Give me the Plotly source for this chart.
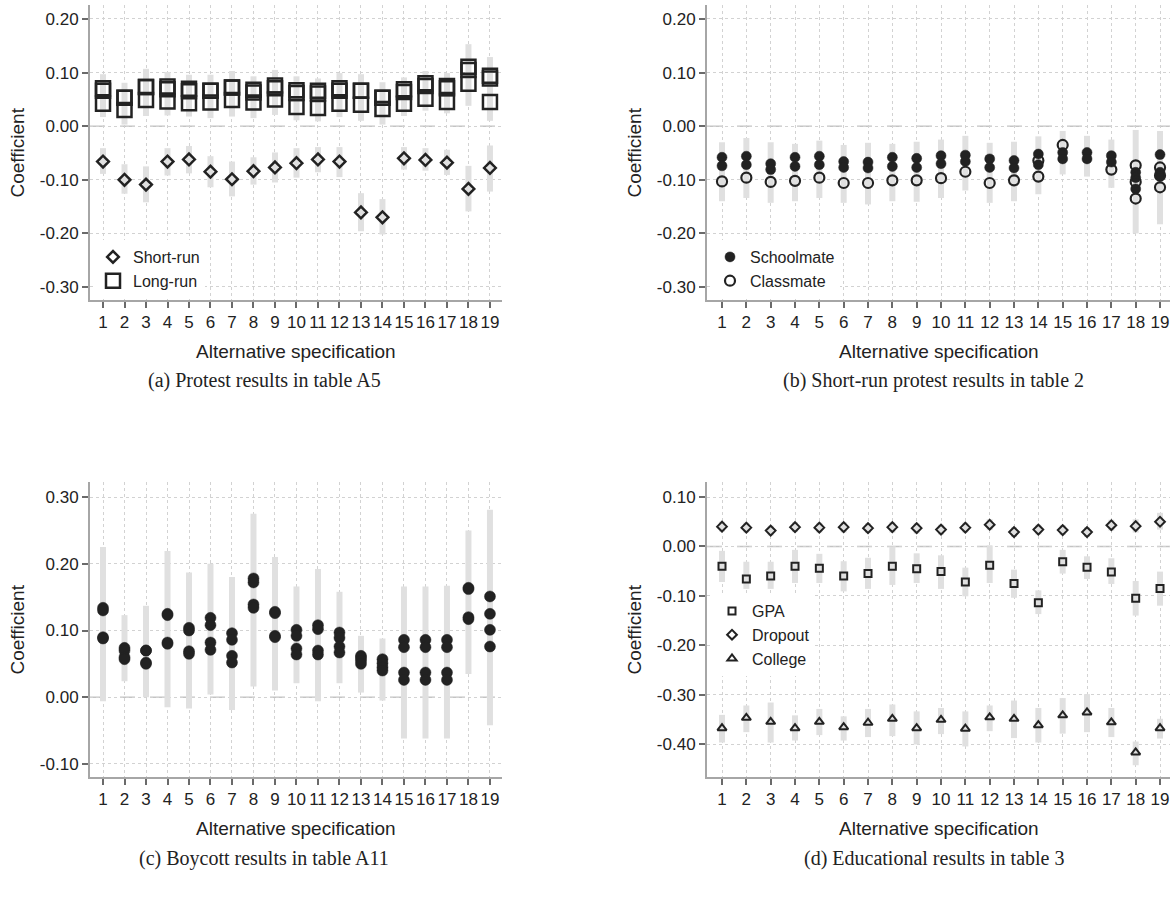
import plotly.graph_objects as go

W, H = 1170, 898
SPECS = list(range(1, 20))
X_TICKTEXT = [str(s) for s in SPECS]

# ---------- Panel (a): Protest results in table A5 ----------
SR = [-0.066, -0.100, -0.109, -0.066, -0.062, -0.085, -0.099, -0.084, -0.077, -0.069,
      -0.062, -0.066, -0.161, -0.170, -0.060, -0.063, -0.068, -0.117, -0.078]
SR_LO = [-0.089, -0.126, -0.142, -0.092, -0.088, -0.114, -0.131, -0.109, -0.105, -0.096,
         -0.086, -0.095, -0.196, -0.202, -0.081, -0.083, -0.091, -0.159, -0.122]
SR_HI = [-0.041, -0.071, -0.075, -0.041, -0.037, -0.056, -0.066, -0.058, -0.049, -0.041,
         -0.039, -0.039, -0.125, -0.136, -0.039, -0.041, -0.044, -0.074, -0.036]
LR_A = [0.071, 0.053, 0.073, 0.074, 0.070, 0.066, 0.072, 0.068, 0.076, 0.067,
        0.066, 0.071, 0.066, 0.053, 0.069, 0.080, 0.075, 0.111, 0.094]
LR_B = [0.066, 0.053, 0.073, 0.069, 0.065, 0.066, 0.072, 0.063, 0.071, 0.062,
        0.061, 0.066, 0.066, 0.053, 0.064, 0.075, 0.071, 0.105, 0.089]
LR_C = [0.042, 0.030, 0.049, 0.046, 0.043, 0.044, 0.049, 0.044, 0.050, 0.036,
        0.034, 0.042, 0.040, 0.032, 0.042, 0.051, 0.045, 0.079, 0.045]
LR_LO = [0.017, 0.003, 0.019, 0.020, 0.018, 0.015, 0.018, 0.015, 0.021, 0.011,
         0.009, 0.017, 0.010, 0.003, 0.019, 0.029, 0.024, 0.038, 0.010]
LR_HI = [0.097, 0.081, 0.107, 0.101, 0.096, 0.096, 0.103, 0.093, 0.105, 0.093,
         0.089, 0.099, 0.097, 0.082, 0.091, 0.103, 0.099, 0.153, 0.129]

# ---------- Panel (b): Short-run protest results in table 2 ----------
SM_A = [-0.058, -0.056, -0.070, -0.058, -0.056, -0.066, -0.067, -0.058, -0.060, -0.055,
        -0.054, -0.061, -0.064, -0.052, -0.049, -0.049, -0.055, -0.086, -0.053]
SM_B = [-0.074, -0.072, -0.081, -0.075, -0.072, -0.077, -0.078, -0.075, -0.077, -0.070,
        -0.066, -0.077, -0.078, -0.072, -0.061, -0.061, -0.067, -0.117, -0.086]
SM_C = [None] * 17 + [-0.096, -0.094]
CM_A = [-0.103, -0.096, -0.104, -0.102, -0.096, -0.106, -0.106, -0.101, -0.101, -0.097,
        -0.085, -0.106, -0.101, -0.094, -0.035, None, -0.081, -0.104, -0.092]
CM_B = [None] * 13 + [-0.064, None, None, None, -0.073, -0.077]
CM_C = [None] * 17 + [-0.135, -0.114]
B_LO = [-0.140, -0.134, -0.143, -0.140, -0.134, -0.143, -0.146, -0.140, -0.141, -0.134,
        -0.120, -0.143, -0.140, -0.127, -0.090, -0.094, -0.115, -0.200, -0.183]
B_HI = [-0.030, -0.022, -0.030, -0.033, -0.027, -0.035, -0.031, -0.033, -0.029, -0.025,
        -0.018, -0.031, -0.029, -0.019, -0.009, -0.018, -0.025, -0.007, -0.009]

# ---------- Panel (c): Boycott results in table A11 ----------
BY_1 = [0.134, 0.074, 0.070, 0.125, 0.104, 0.119, 0.096, 0.178, 0.128, 0.101,
        0.108, 0.097, 0.062, 0.057, 0.086, 0.086, 0.086, 0.164, 0.151]
BY_2 = [0.130, 0.070, 0.070, 0.123, 0.100, 0.108, 0.086, 0.172, 0.126, 0.092,
        0.102, 0.089, 0.059, 0.051, 0.075, 0.075, 0.075, 0.162, 0.125]
BY_3 = [0.090, 0.060, 0.052, 0.082, 0.069, 0.082, 0.062, 0.139, 0.092, 0.073,
        0.070, 0.076, 0.055, 0.045, 0.037, 0.037, 0.037, 0.120, 0.101]
BY_4 = [0.088, 0.057, 0.050, 0.080, 0.065, 0.071, 0.052, 0.134, 0.090, 0.064,
        0.064, 0.067, 0.050, 0.040, 0.026, 0.026, 0.026, 0.117, 0.076]
BY_LO = [-0.006, 0.024, 0.000, -0.015, -0.017, 0.004, -0.019, 0.016, 0.010, 0.021,
         -0.006, 0.021, 0.007, -0.005, -0.062, -0.062, -0.062, 0.035, -0.042]
BY_HI = [0.225, 0.123, 0.137, 0.219, 0.187, 0.200, 0.180, 0.275, 0.210, 0.166,
         0.192, 0.158, 0.092, 0.088, 0.166, 0.166, 0.167, 0.250, 0.281]

# ---------- Panel (d): Educational results in table 3 ----------
GPA = [-0.040, -0.066, -0.060, -0.040, -0.044, -0.060, -0.055, -0.040, -0.045, -0.051,
       -0.072, -0.038, -0.075, -0.114, -0.031, -0.042, -0.052, -0.105, -0.085]
GPA_LO = [-0.072, -0.086, -0.086, -0.074, -0.074, -0.091, -0.086, -0.078, -0.074, -0.086,
          -0.101, -0.074, -0.104, -0.137, -0.055, -0.066, -0.076, -0.140, -0.120]
GPA_HI = [-0.009, -0.031, -0.031, -0.007, -0.015, -0.030, -0.023, 0.000, -0.014, -0.018,
          -0.043, 0.002, -0.047, -0.089, -0.007, -0.020, -0.024, -0.070, -0.051]
DROP = [0.040, 0.038, 0.032, 0.039, 0.038, 0.039, 0.037, 0.039, 0.037, 0.034,
        0.038, 0.044, 0.029, 0.034, 0.033, 0.029, 0.043, 0.041, 0.050]
DROP_LO = [0.030, 0.028, 0.022, 0.029, 0.028, 0.028, 0.027, 0.028, 0.026, 0.024,
           0.028, 0.033, 0.019, 0.024, 0.023, 0.019, 0.032, 0.028, 0.034]
DROP_HI = [0.050, 0.048, 0.042, 0.049, 0.048, 0.049, 0.047, 0.049, 0.047, 0.044,
           0.048, 0.055, 0.039, 0.044, 0.043, 0.039, 0.054, 0.055, 0.068]
COL = [-0.368, -0.347, -0.355, -0.368, -0.355, -0.366, -0.357, -0.349, -0.368, -0.351,
       -0.369, -0.346, -0.349, -0.362, -0.342, -0.336, -0.356, -0.417, -0.368]
COL_LO = [-0.397, -0.376, -0.397, -0.393, -0.382, -0.393, -0.386, -0.384, -0.401, -0.380,
          -0.405, -0.374, -0.388, -0.397, -0.379, -0.376, -0.386, -0.443, -0.389]
COL_HI = [-0.341, -0.322, -0.316, -0.342, -0.329, -0.344, -0.329, -0.320, -0.334, -0.327,
          -0.334, -0.322, -0.312, -0.327, -0.307, -0.299, -0.327, -0.395, -0.349]

Y_TICKS_AB = [-0.30, -0.20, -0.10, 0.00, 0.10, 0.20]
Y_TICKS_C = [-0.10, 0.00, 0.10, 0.20, 0.30]
Y_TICKS_D = [-0.40, -0.30, -0.20, -0.10, 0.00, 0.10]

CAPTIONS = ["(a) Protest results in table A5", "(b) Short-run protest results in table 2",
            "(c) Boycott results in table A11", "(d) Educational results in table 3"]
X_TITLE = "Alternative specification"
Y_TITLE = "Coefficient"

SANS = "Liberation Sans, Arial, sans-serif"
SERIF = "Liberation Serif, Times New Roman, serif"
INK = "#222222"
CI_COLOR = "#e0e0e0"


def px_x(p):
    return p / W


def px_y(p):
    return (H - p) / H


fig = go.Figure()

# panel geometry (pixels)
PANELS = {
    "a": dict(xa="x", ya="y", left=90, right=502, top=5, bottom=300,
              xr=[0.395, 19.56], yr=[-0.3243, 0.2261], yt=Y_TICKS_AB),
    "b": dict(xa="x2", ya="y2", left=707, right=1170, top=5, bottom=300,
              xr=[0.383, 19.41], yr=[-0.3243, 0.2261], yt=Y_TICKS_AB),
    "c": dict(xa="x3", ya="y3", left=90, right=502, top=482, bottom=777,
              xr=[0.395, 19.56], yr=[-0.1195, 0.3225], yt=Y_TICKS_C),
    "d": dict(xa="x4", ya="y4", left=707, right=1170, top=482, bottom=777,
              xr=[0.383, 19.41], yr=[-0.4668, 0.1304], yt=Y_TICKS_D),
}


def ci(panel, lo, hi):
    p = PANELS[panel]
    xs, ys = [], []
    for s, l, h in zip(SPECS, lo, hi):
        xs += [s, s, None]
        ys += [l, h, None]
    fig.add_trace(go.Scatter(x=xs, y=ys, mode="lines", xaxis=p["xa"], yaxis=p["ya"],
                             line=dict(color=CI_COLOR, width=6), hoverinfo="skip",
                             showlegend=False))


def pts(panel, vals, symbol, size, name=None, legend=None, show=False, lw=2.2,
        color=INK, fill=None):
    p = PANELS[panel]
    fig.add_trace(go.Scatter(
        x=SPECS, y=vals, mode="markers", xaxis=p["xa"], yaxis=p["ya"],
        name=name, legend=legend, showlegend=show, legendgroup=name,
        marker=dict(symbol=symbol, size=size, color=fill if fill else color,
                    line=dict(color=color, width=lw))))


# CI bars
ci("a", LR_LO, LR_HI)
ci("a", SR_LO, SR_HI)
ci("b", B_LO, B_HI)
ci("c", BY_LO, BY_HI)
ci("d", GPA_LO, GPA_HI)
ci("d", DROP_LO, DROP_HI)
ci("d", COL_LO, COL_HI)

# Panel a markers
pts("a", SR, "diamond-open", 9, "Short-run", "legend", True, lw=2.5)
pts("a", LR_A, "square-open", 14, "Long-run", "legend", True, lw=2.5)
pts("a", LR_B, "square-open", 14, "Long-run", "legend", False, lw=2.5)
pts("a", LR_C, "square-open", 14, "Long-run", "legend", False, lw=2.5)

# Panel b markers
pts("b", SM_A, "circle", 10, "Schoolmate", "legend2", True, lw=0.5)
pts("b", SM_B, "circle", 10, "Schoolmate", "legend2", False, lw=0.5)
pts("b", SM_C, "circle", 10, "Schoolmate", "legend2", False, lw=0.5)
pts("b", CM_A, "circle-open", 10, "Classmate", "legend2", True, lw=2.2)
pts("b", CM_B, "circle-open", 10, "Classmate", "legend2", False, lw=2.2)
pts("b", CM_C, "circle-open", 10, "Classmate", "legend2", False, lw=2.2)

# Panel c markers
for arr in (BY_1, BY_2, BY_3, BY_4):
    pts("c", arr, "circle", 11, "Boycott", None, False, lw=0.5)

# Panel d markers
pts("d", GPA, "square-open", 7, "GPA", "legend3", True, lw=2)
pts("d", DROP, "diamond-open", 7.5, "Dropout", "legend3", True, lw=2)
pts("d", COL, "triangle-up-open", 8, "College", "legend3", True, lw=2)

axis_common = dict(showgrid=True, gridcolor="#d2d2d2", griddash="dot", gridwidth=1,
                   zeroline=False, showline=True, linecolor="#a6a6a6", linewidth=2,
                   ticks="outside", tickcolor="#6a6a6a", ticklen=6, tickwidth=1.5,
                   tickfont=dict(family=SANS, size=17, color=INK), automargin=False,
                   mirror=False)

layout_axes = {}
for i, (k, p) in enumerate(PANELS.items()):
    sfx = "" if i == 0 else str(i + 1)
    layout_axes["xaxis" + sfx] = dict(
        axis_common, domain=[px_x(p["left"]), px_x(p["right"])], range=p["xr"],
        anchor=p["ya"], tickmode="array", tickvals=SPECS, ticktext=X_TICKTEXT)
    layout_axes["yaxis" + sfx] = dict(
        axis_common, domain=[px_y(p["bottom"]), px_y(p["top"])], range=p["yr"],
        anchor=p["xa"], tickmode="array", tickvals=p["yt"],
        ticktext=[("%.2f" % v).replace("\u2212", "-") for v in p["yt"]])

shapes = []
annotations = []
for i, (k, p) in enumerate(PANELS.items()):
    sfx = "" if i == 0 else str(i + 1)
    shapes.append(dict(type="line", xref="x" + sfx + " domain", x0=0, x1=1,
                       yref="y" + sfx, y0=0, y1=0, layer="below",
                       line=dict(color="#c4c4c4", width=1.5, dash="longdash")))
    cx = (p["left"] + p["right"]) / 2
    cy = (p["top"] + p["bottom"]) / 2
    annotations.append(dict(text=X_TITLE, x=px_x(cx), y=px_y(p["bottom"] + 51),
                            xref="paper", yref="paper", showarrow=False,
                            xanchor="center", yanchor="middle",
                            font=dict(family=SANS, size=19, color=INK)))
    annotations.append(dict(text=Y_TITLE, x=px_x(p["left"] - 73), y=px_y(cy),
                            xref="paper", yref="paper", showarrow=False, textangle=-90,
                            xanchor="center", yanchor="middle",
                            font=dict(family=SANS, size=19, color=INK)))

cap_pos = [(264, 380), (933, 380), (264, 858), (934, 858)]
for txt, (cx, cy) in zip(CAPTIONS, cap_pos):
    annotations.append(dict(text=txt, x=px_x(cx), y=px_y(cy), xref="paper", yref="paper",
                            showarrow=False, xanchor="center", yanchor="middle",
                            font=dict(family=SERIF, size=20, color=INK)))

leg_common = dict(bgcolor="white", borderwidth=0, xanchor="left", yanchor="top",
                  font=dict(family=SANS, size=16, color=INK), itemwidth=30,
                  tracegroupgap=0)

fig.update_layout(
    width=W, height=H, autosize=False,
    margin=dict(l=0, r=0, t=0, b=0, pad=0),
    paper_bgcolor="white", plot_bgcolor="white",
    shapes=shapes, annotations=annotations,
    legend=dict(leg_common, x=px_x(93), y=px_y(240)),
    legend2=dict(leg_common, x=px_x(710), y=px_y(240)),
    legend3=dict(leg_common, x=px_x(712), y=px_y(594)),
    **layout_axes,
)

fig.write_html("out.html")
